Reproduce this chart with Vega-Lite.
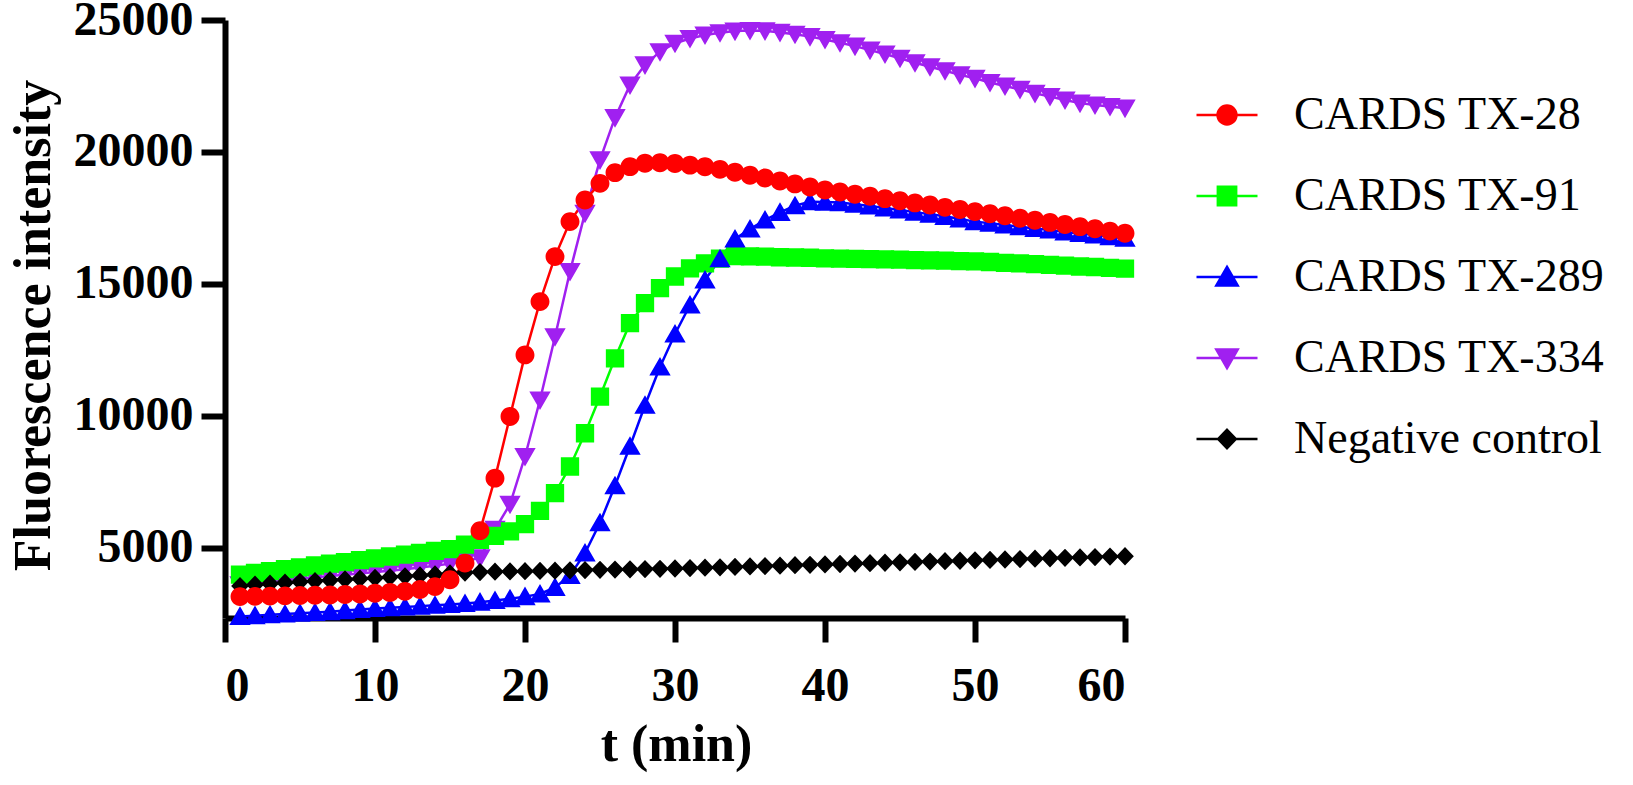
{
  "$schema": "https://vega.github.io/schema/vega-lite/v6.json",
  "description": "Fluorescence intensity over time for CARDS TX samples and a negative control.",
  "autosize": {"type": "none"},
  "padding": {"left": 225, "top": 20, "right": 508, "bottom": 167},
  "width": 900,
  "height": 598,
  "background": "white",
  "config": {
    "view": {"stroke": null},
    "axis": {
      "grid": false,
      "domainColor": "black",
      "domainWidth": 6,
      "tickColor": "black",
      "tickWidth": 6,
      "tickSize": 24,
      "labelFont": "Liberation Serif",
      "labelFontWeight": "bold",
      "labelFontSize": 48,
      "labelColor": "black",
      "titleFont": "Liberation Serif",
      "titleFontWeight": "bold",
      "titleFontSize": 52,
      "titleColor": "black"
    },
    "legend": {
      "labelFont": "Liberation Serif, Times New Roman, Tinos, serif",
      "labelFontSize": 46,
      "labelFontWeight": 400,
      "labelColor": "black"
    }
  },
  "data": {
    "values": [
      {"t": 1, "s": "CARDS TX-334", "v": 3600}, {"t": 2, "s": "CARDS TX-334", "v": 3660}, {"t": 3, "s": "CARDS TX-334", "v": 3720}, {"t": 4, "s": "CARDS TX-334", "v": 3780}, {"t": 5, "s": "CARDS TX-334", "v": 3830},
      {"t": 6, "s": "CARDS TX-334", "v": 3880}, {"t": 7, "s": "CARDS TX-334", "v": 3930}, {"t": 8, "s": "CARDS TX-334", "v": 3980}, {"t": 9, "s": "CARDS TX-334", "v": 4030}, {"t": 10, "s": "CARDS TX-334", "v": 4080},
      {"t": 11, "s": "CARDS TX-334", "v": 4130}, {"t": 12, "s": "CARDS TX-334", "v": 4190}, {"t": 13, "s": "CARDS TX-334", "v": 4250}, {"t": 14, "s": "CARDS TX-334", "v": 4320}, {"t": 15, "s": "CARDS TX-334", "v": 4400},
      {"t": 16, "s": "CARDS TX-334", "v": 4500}, {"t": 17, "s": "CARDS TX-334", "v": 4620}, {"t": 18, "s": "CARDS TX-334", "v": 5700}, {"t": 19, "s": "CARDS TX-334", "v": 6650}, {"t": 20, "s": "CARDS TX-334", "v": 8460},
      {"t": 21, "s": "CARDS TX-334", "v": 10600}, {"t": 22, "s": "CARDS TX-334", "v": 13000}, {"t": 23, "s": "CARDS TX-334", "v": 15470}, {"t": 24, "s": "CARDS TX-334", "v": 17680}, {"t": 25, "s": "CARDS TX-334", "v": 19700},
      {"t": 26, "s": "CARDS TX-334", "v": 21300}, {"t": 27, "s": "CARDS TX-334", "v": 22540}, {"t": 28, "s": "CARDS TX-334", "v": 23300}, {"t": 29, "s": "CARDS TX-334", "v": 23800}, {"t": 30, "s": "CARDS TX-334", "v": 24120},
      {"t": 31, "s": "CARDS TX-334", "v": 24300}, {"t": 32, "s": "CARDS TX-334", "v": 24430}, {"t": 33, "s": "CARDS TX-334", "v": 24520}, {"t": 34, "s": "CARDS TX-334", "v": 24580}, {"t": 35, "s": "CARDS TX-334", "v": 24600},
      {"t": 36, "s": "CARDS TX-334", "v": 24590}, {"t": 37, "s": "CARDS TX-334", "v": 24530}, {"t": 38, "s": "CARDS TX-334", "v": 24460}, {"t": 39, "s": "CARDS TX-334", "v": 24370}, {"t": 40, "s": "CARDS TX-334", "v": 24260},
      {"t": 41, "s": "CARDS TX-334", "v": 24140}, {"t": 42, "s": "CARDS TX-334", "v": 24010}, {"t": 43, "s": "CARDS TX-334", "v": 23860}, {"t": 44, "s": "CARDS TX-334", "v": 23710}, {"t": 45, "s": "CARDS TX-334", "v": 23550},
      {"t": 46, "s": "CARDS TX-334", "v": 23380}, {"t": 47, "s": "CARDS TX-334", "v": 23230}, {"t": 48, "s": "CARDS TX-334", "v": 23080}, {"t": 49, "s": "CARDS TX-334", "v": 22920}, {"t": 50, "s": "CARDS TX-334", "v": 22790},
      {"t": 51, "s": "CARDS TX-334", "v": 22630}, {"t": 52, "s": "CARDS TX-334", "v": 22500}, {"t": 53, "s": "CARDS TX-334", "v": 22370}, {"t": 54, "s": "CARDS TX-334", "v": 22220}, {"t": 55, "s": "CARDS TX-334", "v": 22100},
      {"t": 56, "s": "CARDS TX-334", "v": 21970}, {"t": 57, "s": "CARDS TX-334", "v": 21850}, {"t": 58, "s": "CARDS TX-334", "v": 21780}, {"t": 59, "s": "CARDS TX-334", "v": 21720}, {"t": 60, "s": "CARDS TX-334", "v": 21660},

      {"t": 1, "s": "CARDS TX-91", "v": 3980}, {"t": 2, "s": "CARDS TX-91", "v": 4050}, {"t": 3, "s": "CARDS TX-91", "v": 4120}, {"t": 4, "s": "CARDS TX-91", "v": 4190}, {"t": 5, "s": "CARDS TX-91", "v": 4260},
      {"t": 6, "s": "CARDS TX-91", "v": 4330}, {"t": 7, "s": "CARDS TX-91", "v": 4400}, {"t": 8, "s": "CARDS TX-91", "v": 4460}, {"t": 9, "s": "CARDS TX-91", "v": 4530}, {"t": 10, "s": "CARDS TX-91", "v": 4600},
      {"t": 11, "s": "CARDS TX-91", "v": 4670}, {"t": 12, "s": "CARDS TX-91", "v": 4740}, {"t": 13, "s": "CARDS TX-91", "v": 4810}, {"t": 14, "s": "CARDS TX-91", "v": 4880}, {"t": 15, "s": "CARDS TX-91", "v": 4950},
      {"t": 16, "s": "CARDS TX-91", "v": 5120}, {"t": 17, "s": "CARDS TX-91", "v": 5300}, {"t": 18, "s": "CARDS TX-91", "v": 5450}, {"t": 19, "s": "CARDS TX-91", "v": 5620}, {"t": 20, "s": "CARDS TX-91", "v": 5900},
      {"t": 21, "s": "CARDS TX-91", "v": 6400}, {"t": 22, "s": "CARDS TX-91", "v": 7070}, {"t": 23, "s": "CARDS TX-91", "v": 8080}, {"t": 24, "s": "CARDS TX-91", "v": 9340}, {"t": 25, "s": "CARDS TX-91", "v": 10730},
      {"t": 26, "s": "CARDS TX-91", "v": 12180}, {"t": 27, "s": "CARDS TX-91", "v": 13510}, {"t": 28, "s": "CARDS TX-91", "v": 14270}, {"t": 29, "s": "CARDS TX-91", "v": 14840}, {"t": 30, "s": "CARDS TX-91", "v": 15280},
      {"t": 31, "s": "CARDS TX-91", "v": 15590}, {"t": 32, "s": "CARDS TX-91", "v": 15780}, {"t": 33, "s": "CARDS TX-91", "v": 15960}, {"t": 34, "s": "CARDS TX-91", "v": 16050}, {"t": 35, "s": "CARDS TX-91", "v": 16040},
      {"t": 36, "s": "CARDS TX-91", "v": 16030}, {"t": 37, "s": "CARDS TX-91", "v": 16010}, {"t": 38, "s": "CARDS TX-91", "v": 16000}, {"t": 39, "s": "CARDS TX-91", "v": 15990}, {"t": 40, "s": "CARDS TX-91", "v": 15970},
      {"t": 41, "s": "CARDS TX-91", "v": 15960}, {"t": 42, "s": "CARDS TX-91", "v": 15950}, {"t": 43, "s": "CARDS TX-91", "v": 15940}, {"t": 44, "s": "CARDS TX-91", "v": 15930}, {"t": 45, "s": "CARDS TX-91", "v": 15920},
      {"t": 46, "s": "CARDS TX-91", "v": 15900}, {"t": 47, "s": "CARDS TX-91", "v": 15890}, {"t": 48, "s": "CARDS TX-91", "v": 15880}, {"t": 49, "s": "CARDS TX-91", "v": 15860}, {"t": 50, "s": "CARDS TX-91", "v": 15850},
      {"t": 51, "s": "CARDS TX-91", "v": 15830}, {"t": 52, "s": "CARDS TX-91", "v": 15800}, {"t": 53, "s": "CARDS TX-91", "v": 15780}, {"t": 54, "s": "CARDS TX-91", "v": 15750}, {"t": 55, "s": "CARDS TX-91", "v": 15720},
      {"t": 56, "s": "CARDS TX-91", "v": 15690}, {"t": 57, "s": "CARDS TX-91", "v": 15660}, {"t": 58, "s": "CARDS TX-91", "v": 15640}, {"t": 59, "s": "CARDS TX-91", "v": 15610}, {"t": 60, "s": "CARDS TX-91", "v": 15580},

      {"t": 1, "s": "CARDS TX-289", "v": 2400}, {"t": 2, "s": "CARDS TX-289", "v": 2430}, {"t": 3, "s": "CARDS TX-289", "v": 2460}, {"t": 4, "s": "CARDS TX-289", "v": 2490}, {"t": 5, "s": "CARDS TX-289", "v": 2520},
      {"t": 6, "s": "CARDS TX-289", "v": 2550}, {"t": 7, "s": "CARDS TX-289", "v": 2580}, {"t": 8, "s": "CARDS TX-289", "v": 2620}, {"t": 9, "s": "CARDS TX-289", "v": 2660}, {"t": 10, "s": "CARDS TX-289", "v": 2700},
      {"t": 11, "s": "CARDS TX-289", "v": 2730}, {"t": 12, "s": "CARDS TX-289", "v": 2760}, {"t": 13, "s": "CARDS TX-289", "v": 2790}, {"t": 14, "s": "CARDS TX-289", "v": 2820}, {"t": 15, "s": "CARDS TX-289", "v": 2850},
      {"t": 16, "s": "CARDS TX-289", "v": 2890}, {"t": 17, "s": "CARDS TX-289", "v": 2940}, {"t": 18, "s": "CARDS TX-289", "v": 3000}, {"t": 19, "s": "CARDS TX-289", "v": 3070}, {"t": 20, "s": "CARDS TX-289", "v": 3150},
      {"t": 21, "s": "CARDS TX-289", "v": 3250}, {"t": 22, "s": "CARDS TX-289", "v": 3500}, {"t": 23, "s": "CARDS TX-289", "v": 3950}, {"t": 24, "s": "CARDS TX-289", "v": 4800}, {"t": 25, "s": "CARDS TX-289", "v": 5950},
      {"t": 26, "s": "CARDS TX-289", "v": 7350}, {"t": 27, "s": "CARDS TX-289", "v": 8850}, {"t": 28, "s": "CARDS TX-289", "v": 10400}, {"t": 29, "s": "CARDS TX-289", "v": 11850}, {"t": 30, "s": "CARDS TX-289", "v": 13100},
      {"t": 31, "s": "CARDS TX-289", "v": 14200}, {"t": 32, "s": "CARDS TX-289", "v": 15150}, {"t": 33, "s": "CARDS TX-289", "v": 15950}, {"t": 34, "s": "CARDS TX-289", "v": 16700}, {"t": 35, "s": "CARDS TX-289", "v": 17080},
      {"t": 36, "s": "CARDS TX-289", "v": 17420}, {"t": 37, "s": "CARDS TX-289", "v": 17710}, {"t": 38, "s": "CARDS TX-289", "v": 17960}, {"t": 39, "s": "CARDS TX-289", "v": 18110}, {"t": 40, "s": "CARDS TX-289", "v": 18100},
      {"t": 41, "s": "CARDS TX-289", "v": 18080}, {"t": 42, "s": "CARDS TX-289", "v": 18020}, {"t": 43, "s": "CARDS TX-289", "v": 17950}, {"t": 44, "s": "CARDS TX-289", "v": 17880}, {"t": 45, "s": "CARDS TX-289", "v": 17800},
      {"t": 46, "s": "CARDS TX-289", "v": 17720}, {"t": 47, "s": "CARDS TX-289", "v": 17640}, {"t": 48, "s": "CARDS TX-289", "v": 17560}, {"t": 49, "s": "CARDS TX-289", "v": 17460}, {"t": 50, "s": "CARDS TX-289", "v": 17360},
      {"t": 51, "s": "CARDS TX-289", "v": 17300}, {"t": 52, "s": "CARDS TX-289", "v": 17230}, {"t": 53, "s": "CARDS TX-289", "v": 17170}, {"t": 54, "s": "CARDS TX-289", "v": 17100}, {"t": 55, "s": "CARDS TX-289", "v": 17040},
      {"t": 56, "s": "CARDS TX-289", "v": 16970}, {"t": 57, "s": "CARDS TX-289", "v": 16910}, {"t": 58, "s": "CARDS TX-289", "v": 16850}, {"t": 59, "s": "CARDS TX-289", "v": 16790}, {"t": 60, "s": "CARDS TX-289", "v": 16730},

      {"t": 1, "s": "Negative control", "v": 3550}, {"t": 2, "s": "Negative control", "v": 3600}, {"t": 3, "s": "Negative control", "v": 3640}, {"t": 4, "s": "Negative control", "v": 3680}, {"t": 5, "s": "Negative control", "v": 3710},
      {"t": 6, "s": "Negative control", "v": 3740}, {"t": 7, "s": "Negative control", "v": 3770}, {"t": 8, "s": "Negative control", "v": 3800}, {"t": 9, "s": "Negative control", "v": 3830}, {"t": 10, "s": "Negative control", "v": 3860},
      {"t": 11, "s": "Negative control", "v": 3890}, {"t": 12, "s": "Negative control", "v": 3920}, {"t": 13, "s": "Negative control", "v": 3950}, {"t": 14, "s": "Negative control", "v": 3990}, {"t": 15, "s": "Negative control", "v": 4030},
      {"t": 16, "s": "Negative control", "v": 4060}, {"t": 17, "s": "Negative control", "v": 4080}, {"t": 18, "s": "Negative control", "v": 4095}, {"t": 19, "s": "Negative control", "v": 4105}, {"t": 20, "s": "Negative control", "v": 4115},
      {"t": 21, "s": "Negative control", "v": 4125}, {"t": 22, "s": "Negative control", "v": 4135}, {"t": 23, "s": "Negative control", "v": 4145}, {"t": 24, "s": "Negative control", "v": 4155}, {"t": 25, "s": "Negative control", "v": 4165},
      {"t": 26, "s": "Negative control", "v": 4175}, {"t": 27, "s": "Negative control", "v": 4185}, {"t": 28, "s": "Negative control", "v": 4195}, {"t": 29, "s": "Negative control", "v": 4205}, {"t": 30, "s": "Negative control", "v": 4215},
      {"t": 31, "s": "Negative control", "v": 4230}, {"t": 32, "s": "Negative control", "v": 4246}, {"t": 33, "s": "Negative control", "v": 4262}, {"t": 34, "s": "Negative control", "v": 4277}, {"t": 35, "s": "Negative control", "v": 4293},
      {"t": 36, "s": "Negative control", "v": 4308}, {"t": 37, "s": "Negative control", "v": 4324}, {"t": 38, "s": "Negative control", "v": 4340}, {"t": 39, "s": "Negative control", "v": 4355}, {"t": 40, "s": "Negative control", "v": 4370},
      {"t": 41, "s": "Negative control", "v": 4386}, {"t": 42, "s": "Negative control", "v": 4402}, {"t": 43, "s": "Negative control", "v": 4417}, {"t": 44, "s": "Negative control", "v": 4433}, {"t": 45, "s": "Negative control", "v": 4448},
      {"t": 46, "s": "Negative control", "v": 4464}, {"t": 47, "s": "Negative control", "v": 4480}, {"t": 48, "s": "Negative control", "v": 4495}, {"t": 49, "s": "Negative control", "v": 4510}, {"t": 50, "s": "Negative control", "v": 4526},
      {"t": 51, "s": "Negative control", "v": 4542}, {"t": 52, "s": "Negative control", "v": 4557}, {"t": 53, "s": "Negative control", "v": 4572}, {"t": 54, "s": "Negative control", "v": 4588}, {"t": 55, "s": "Negative control", "v": 4604},
      {"t": 56, "s": "Negative control", "v": 4619}, {"t": 57, "s": "Negative control", "v": 4634}, {"t": 58, "s": "Negative control", "v": 4650}, {"t": 59, "s": "Negative control", "v": 4666}, {"t": 60, "s": "Negative control", "v": 4680},

      {"t": 1, "s": "CARDS TX-28", "v": 3150}, {"t": 2, "s": "CARDS TX-28", "v": 3160}, {"t": 3, "s": "CARDS TX-28", "v": 3170}, {"t": 4, "s": "CARDS TX-28", "v": 3180}, {"t": 5, "s": "CARDS TX-28", "v": 3190},
      {"t": 6, "s": "CARDS TX-28", "v": 3200}, {"t": 7, "s": "CARDS TX-28", "v": 3210}, {"t": 8, "s": "CARDS TX-28", "v": 3230}, {"t": 9, "s": "CARDS TX-28", "v": 3250}, {"t": 10, "s": "CARDS TX-28", "v": 3280},
      {"t": 11, "s": "CARDS TX-28", "v": 3310}, {"t": 12, "s": "CARDS TX-28", "v": 3350}, {"t": 13, "s": "CARDS TX-28", "v": 3420}, {"t": 14, "s": "CARDS TX-28", "v": 3530}, {"t": 15, "s": "CARDS TX-28", "v": 3790},
      {"t": 16, "s": "CARDS TX-28", "v": 4420}, {"t": 17, "s": "CARDS TX-28", "v": 5650}, {"t": 18, "s": "CARDS TX-28", "v": 7640}, {"t": 19, "s": "CARDS TX-28", "v": 9975}, {"t": 20, "s": "CARDS TX-28", "v": 12310},
      {"t": 21, "s": "CARDS TX-28", "v": 14330}, {"t": 22, "s": "CARDS TX-28", "v": 16035}, {"t": 23, "s": "CARDS TX-28", "v": 17360}, {"t": 24, "s": "CARDS TX-28", "v": 18180}, {"t": 25, "s": "CARDS TX-28", "v": 18810},
      {"t": 26, "s": "CARDS TX-28", "v": 19216}, {"t": 27, "s": "CARDS TX-28", "v": 19443}, {"t": 28, "s": "CARDS TX-28", "v": 19570}, {"t": 29, "s": "CARDS TX-28", "v": 19590}, {"t": 30, "s": "CARDS TX-28", "v": 19560},
      {"t": 31, "s": "CARDS TX-28", "v": 19500}, {"t": 32, "s": "CARDS TX-28", "v": 19440}, {"t": 33, "s": "CARDS TX-28", "v": 19340}, {"t": 34, "s": "CARDS TX-28", "v": 19230}, {"t": 35, "s": "CARDS TX-28", "v": 19120},
      {"t": 36, "s": "CARDS TX-28", "v": 19010}, {"t": 37, "s": "CARDS TX-28", "v": 18900}, {"t": 38, "s": "CARDS TX-28", "v": 18790}, {"t": 39, "s": "CARDS TX-28", "v": 18670}, {"t": 40, "s": "CARDS TX-28", "v": 18560},
      {"t": 41, "s": "CARDS TX-28", "v": 18480}, {"t": 42, "s": "CARDS TX-28", "v": 18400}, {"t": 43, "s": "CARDS TX-28", "v": 18320}, {"t": 44, "s": "CARDS TX-28", "v": 18230}, {"t": 45, "s": "CARDS TX-28", "v": 18150},
      {"t": 46, "s": "CARDS TX-28", "v": 18070}, {"t": 47, "s": "CARDS TX-28", "v": 17990}, {"t": 48, "s": "CARDS TX-28", "v": 17900}, {"t": 49, "s": "CARDS TX-28", "v": 17820}, {"t": 50, "s": "CARDS TX-28", "v": 17740},
      {"t": 51, "s": "CARDS TX-28", "v": 17660}, {"t": 52, "s": "CARDS TX-28", "v": 17580}, {"t": 53, "s": "CARDS TX-28", "v": 17490}, {"t": 54, "s": "CARDS TX-28", "v": 17410}, {"t": 55, "s": "CARDS TX-28", "v": 17330},
      {"t": 56, "s": "CARDS TX-28", "v": 17250}, {"t": 57, "s": "CARDS TX-28", "v": 17170}, {"t": 58, "s": "CARDS TX-28", "v": 17090}, {"t": 59, "s": "CARDS TX-28", "v": 17000}, {"t": 60, "s": "CARDS TX-28", "v": 16920}
    ]
  },
  "encoding": {
    "x": {
      "field": "t",
      "type": "quantitative",
      "scale": {"domain": [0, 60], "nice": false},
      "axis": {
        "values": [0, 10, 20, 30, 40, 50, 60],
        "labelPadding": 20,
        "title": "t (min)",
        "titleX": 451,
        "titleY": 142,
        "titleBaseline": "alphabetic"
      }
    },
    "y": {
      "field": "v",
      "type": "quantitative",
      "scale": {"domain": [2340, 25000], "nice": false, "zero": false},
      "axis": {
        "values": [5000, 10000, 15000, 20000, 25000],
        "format": "d",
        "labelPadding": 8,
        "title": "Fluorescence intensity",
        "titleX": -176,
        "titleY": 305,
        "titleBaseline": "alphabetic"
      }
    },
    "color": {
      "field": "s",
      "type": "nominal",
      "scale": {
        "domain": ["CARDS TX-28", "CARDS TX-91", "CARDS TX-289", "CARDS TX-334", "Negative control"],
        "range": ["#ff0000", "#00ff00", "#0000ff", "#a020f0", "#000000"]
      },
      "legend": {
        "title": null,
        "orient": "none",
        "legendX": 970,
        "legendY": 63,
        "padding": 0,
        "symbolSize": 3721,
        "symbolStrokeWidth": 2.5,
        "symbolOpacity": 1,
        "labelOffset": 35,
        "rowPadding": 26,
        "labelFont": "Liberation Serif, Times New Roman, Tinos, serif",
        "labelFontSize": 46,
        "labelFontWeight": 400,
        "labelColor": "black",
        "labelLimit": 600
      }
    }
  },
  "layer": [
    {
      "mark": {"type": "line", "strokeWidth": 2.5},
      "encoding": {}
    },
    {
      "mark": {"type": "point", "filled": true, "opacity": 1, "size": 3721},
      "encoding": {
        "shape": {
          "field": "s",
          "type": "nominal",
          "scale": {
            "domain": ["CARDS TX-28", "CARDS TX-91", "CARDS TX-289", "CARDS TX-334", "Negative control"],
            "range": [
              "M-1,0H1M-0.31,0A0.31,0.31,0,1,0,0.31,0A0.31,0.31,0,1,0,-0.31,0Z",
              "M-1,0H1M-0.3,-0.3H0.3V0.3H-0.3Z",
              "M-1,0H1M0,-0.33L0.35,0.28H-0.35Z",
              "M-1,0H1M0,0.33L0.35,-0.28H-0.35Z",
              "M-1,0H1M0,-0.3L0.29,0L0,0.3L-0.29,0Z"
            ]
          }
        }
      }
    }
  ]
}
